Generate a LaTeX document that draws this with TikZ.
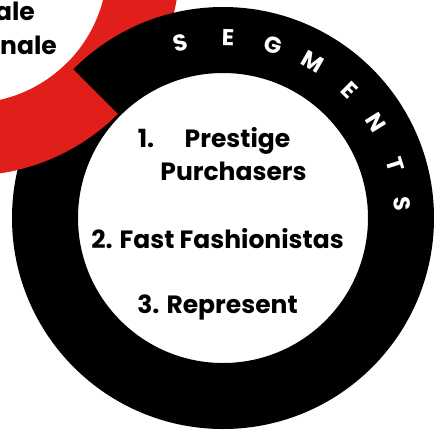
\documentclass[tikz,border=0pt]{standalone}
\usepackage{fontspec}
\setmainfont{Poppins}
\usetikzlibrary{calc}
\definecolor{ringred}{RGB}{224,31,26}
\begin{document}
\begin{tikzpicture}[x=1pt,y=1pt,
  label/.style={font=\bfseries\fontsize{25}{30}\selectfont, inner sep=0pt, text=black},
  arcletter/.style={font=\bfseries\fontsize{23}{26}\selectfont, inner sep=0pt, text=white}]
\useasboundingbox (0,0) rectangle (436,-434);
\clip (0,0) rectangle (436,-434);
% ring centres
\coordinate (rc) at (-30.6,34.6);
\coordinate (bc) at (223,-218);
% red ring, black ring, then the red ring again over the lower-left overlap
\fill[ringred, even odd rule] (rc) circle (210) (rc) circle (138);
\fill[black, even odd rule] (bc) circle (211) (bc) circle (145);
\begin{scope}
  \clip (-100,104) -- (500,-496) -- (-100,-496) -- cycle;
  \fill[ringred, even odd rule] (rc) circle (210) (rc) circle (138);
\end{scope}
% partial labels inside the red ring
\node[label, anchor=base east] (l1) at (35,-20) {ale};
\node[label, anchor=base east] (l2) at (57,-54) {nale};
% segment list
\node[label, anchor=base] (n1) at (146,-147) {1.};
\node[label, anchor=base] (t1) at (237.5,-147) {Prestige};
\node[label, anchor=base] (t1b) at (233.5,-180) {Purchasers};
\node[label, anchor=base] (t2) at (217.5,-248) {2. Fast Fashionistas};
\node[label, anchor=base] (t3) at (217.5,-313) {3. Represent};
% lettering around the black ring
\foreach \ch/\ang [count=\i] in {S/103.7,E/88.4,G/73.7,M/60,E/45.2,N/32,T/17.3,S/4.6}{
  \node[arcletter, rotate=\ang-90] (s\i) at ($(bc)+(\ang:180)$) {\ch};
}
\end{tikzpicture}
\end{document}
